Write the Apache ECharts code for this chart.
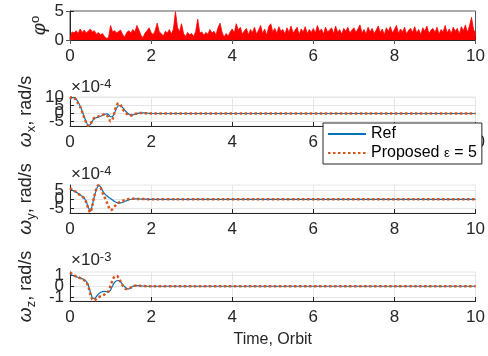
<!DOCTYPE html>
<html>
<head>
<meta charset="utf-8">
<script src="https://cdn.jsdelivr.net/npm/echarts@6/dist/echarts.min.js"></script>
<style>
html, body { margin: 0; padding: 0; background: #fff; }
#chart { width: 488px; height: 356px; }
</style>
</head>
<body>
<div id="chart"></div>
<script>
// Time axis (orbits)
const timeTicks = [0, 2, 4, 6, 8, 10];

// Pointing error phi (deg), sampled every 0.05 orbit from 0 to 10
const phiStep = 0.05;
const phiDeg = [
  0.3, 1.4, 1.2, 1.6, 1.1, 1.9, 1.3, 1.7, 1.2, 1.5, 1.9, 1.4, 1.6, 1.0, 1.3, 0.9, 1.1, 0.6, 0.3, 0.4,
  2.5, 1.4, 1.6, 1.2, 1.5, 1.7, 0.9, 0.5, 1.3, 1.6, 1.2, 1.8, 1.4, 2.5, 1.7, 0.8, 0.4, 1.2, 1.6, 2.1,
  1.3, 0.9, 1.6, 2.9, 1.4, 1.1, 0.7, 1.5, 1.2, 1.8, 1.0, 1.9, 4.9, 2.2, 1.4, 2.8, 1.1, 0.6, 1.3, 0.9,
  1.1, 0.6, 1.5, 3.6, 1.2, 1.4, 0.8, 1.3, 1.0, 1.8, 1.2, 1.5, 0.9, 2.1, 2.9, 1.3, 0.5, 1.1, 0.7, 1.4,
  1.9, 1.2, 2.8, 1.7, 2.2, 1.0, 1.6, 2.0, 0.9, 1.8, 1.3, 2.2, 1.0, 1.7, 2.5, 1.1, 1.9, 0.8, 2.3, 2.8,
  1.4, 2.0, 1.1, 2.3, 1.5, 1.8, 1.0, 2.1, 1.3, 2.4, 1.2, 1.7, 2.2, 0.9, 1.9, 1.4, 2.3, 1.1, 1.8, 1.3,
  2.0, 1.2, 2.5, 1.5, 1.9, 1.0, 2.2, 1.4, 1.7, 2.1, 1.1, 2.4, 1.3, 1.8, 1.0, 2.0, 1.5, 2.2, 1.2, 1.7,
  2.1, 1.3, 1.9, 2.6, 1.2, 1.8, 1.0, 2.2, 1.4, 2.0, 1.1, 1.7, 2.4, 1.3, 1.9, 0.9, 2.1, 1.5, 2.3, 1.2,
  1.8, 2.5, 1.1, 1.9, 1.4, 2.2, 1.0, 1.7, 2.0, 1.3, 2.3, 1.2, 1.8, 0.9, 2.1, 1.5, 2.4, 1.1, 1.7, 2.0,
  1.3, 2.2, 1.0, 1.8, 1.4, 2.5, 1.2, 1.9, 1.1, 2.2, 1.5, 2.0, 1.0, 2.3, 1.6, 2.6, 1.3, 2.4, 3.9, 1.8,
  1.2
];

// Sample times for the angular-rate responses (orbits)
const rateTime = [
  0, 0.05, 0.1, 0.15, 0.2, 0.25, 0.3, 0.35, 0.4, 0.45, 0.5, 0.55, 0.6, 0.65, 0.7, 0.75, 0.8, 0.85, 0.9, 0.95,
  1.0, 1.05, 1.1, 1.15, 1.2, 1.25, 1.3, 1.35, 1.4, 1.45, 1.5, 1.55, 1.6, 1.65, 1.7, 1.75, 1.8, 1.85, 1.9, 1.95,
  2.0, 10
];

// omega_x (x 1e-4 rad/s)
const wxRef = [
  8.5, 9.6, 9.8, 8.8, 6.8, 4.5, 1.5, -2.0, -5.0, -7.2, -6.8, -4.6, -3.0, -2.5, -2.2, -1.7, -1.2, -0.6, -0.2, -0.6,
  -2.0, -1.8, 0.5, 3.2, 4.7, 4.6, 3.5, 2.0, 0.6, -0.4, -1.0, -0.9, -0.5, -0.1, 0.2, 0.4, 0.4, 0.3, 0.2, 0.1,
  0.0, 0.0
];
const wxProp = [
  9.0, 10.0, 9.6, 8.2, 6.2, 4.0, 1.0, -2.6, -5.6, -7.5, -6.6, -4.2, -2.8, -2.2, -1.8, -1.3, -0.8, -0.5, -0.8, -2.5,
  -4.8, -3.5, 1.0, 5.0, 6.2, 5.0, 2.8, 1.0, -0.2, -1.1, -1.2, -0.8, -0.3, 0.0, 0.2, 0.3, 0.3, 0.2, 0.1, 0.1,
  0.0, 0.0
];

// omega_y (x 1e-4 rad/s)
const wyRef = [
  5.4, 4.9, 4.4, 3.8, 3.2, 2.4, 1.6, 0.6, -1.2, -4.2, -6.4, -3.0, 1.5, 5.0, 7.3, 6.8, 4.6, 3.0, 2.0, 1.1,
  0.4, -0.4, -1.2, -1.7, -2.0, -1.9, -1.6, -1.2, -0.7, -0.3, 0.0, 0.1, 0.2, 0.2, 0.2, 0.1, 0.1, 0.1, 0.0, 0.0,
  0.0, 0.0
];
const wyProp = [
  6.0, 5.2, 4.6, 3.9, 3.0, 2.2, 1.5, 0.4, -1.6, -4.8, -7.0, -3.4, 1.8, 5.6, 7.5, 6.5, 3.6, 1.2, -1.2, -3.8,
  -5.8, -5.2, -3.8, -2.8, -1.8, -1.2, -0.8, -0.5, -0.1, 0.2, 0.3, 0.3, 0.3, 0.2, 0.2, 0.1, 0.1, 0.1, 0.0, 0.0,
  0.0, 0.0
];

// omega_z (x 1e-3 rad/s)
const wzRef = [
  1.10, 1.02, 0.95, 0.88, 0.80, 0.74, 0.68, 0.60, 0.45, 0.12, -0.50, -1.05, -1.12, -0.95, -0.72, -0.58, -0.50, -0.47, -0.50, -0.55,
  -0.35, 0.05, 0.35, 0.50, 0.52, 0.38, 0.15, -0.05, -0.20, -0.25, -0.15, 0.00, 0.06, 0.06, 0.04, 0.02, 0.02, 0.01, 0.00, 0.00,
  0.00, 0.00
];
const wzProp = [
  1.25, 1.12, 1.00, 0.90, 0.82, 0.74, 0.65, 0.55, 0.38, 0.00, -0.70, -1.20, -1.30, -1.15, -1.00, -0.92, -0.85, -0.75, -0.60, -0.45,
  0.05, 0.55, 0.90, 0.95, 0.75, 0.40, 0.05, -0.20, -0.25, -0.20, -0.12, 0.00, 0.05, 0.05, 0.04, 0.03, 0.02, 0.01, 0.00, 0.00,
  0.00, 0.00
];

// Y tick values per panel
const phiTicks = [0, 5];
const wxTicks = [-5, 0, 5, 10];
const wyTicks = [-5, 0, 5];
const wzTicks = [-1, 0, 1];

const seriesNames = ['Ref', 'Proposed \u03b5 = 5'];

const FONT = 'Liberation Sans, Arial, Helvetica, sans-serif';
const AX = '#262626';
const GRIDC = '#e6e6e6';
const BLUE = '#0072BD';
const ORANGE = '#D95319';

const zip = (t, v) => v.map((y, i) => [t[i], y]);
const phiData = phiDeg.map((v, i) => [+(i * phiStep).toFixed(2), v]);

const grids = [
  { left: 70, right: 10, top: 11, height: 29, show: true, borderColor: '#555', borderWidth: 1, backgroundColor: 'transparent' },
  { left: 70, right: 10, top: 97, height: 29, show: true, borderColor: GRIDC, borderWidth: 1, backgroundColor: 'transparent' },
  { left: 70, right: 10, top: 185, height: 28, show: true, borderColor: GRIDC, borderWidth: 1, backgroundColor: 'transparent' },
  { left: 70, right: 10, top: 272, height: 29, show: true, borderColor: GRIDC, borderWidth: 1, backgroundColor: 'transparent' }
];

const tickLabelStyle = { show: true, fontSize: 17, color: AX, fontFamily: FONT, hideOverlap: false };

function xAxisFor(i) {
  return {
    type: 'value', gridIndex: i, min: 0, max: 10, interval: 2,
    axisLine: { show: true, onZero: false, lineStyle: { color: AX, width: 1 } },
    axisTick: { show: true, inside: true, length: 4, lineStyle: { color: AX } },
    axisLabel: Object.assign({ margin: 8, showMinLabel: true, showMaxLabel: true }, tickLabelStyle),
    splitLine: { show: i > 0, lineStyle: { color: GRIDC, width: 1 } },
    name: i === 3 ? 'Time, Orbit' : '',
    nameLocation: 'middle', nameGap: 31,
    nameTextStyle: { fontSize: 16, color: AX, fontFamily: FONT }
  };
}

// main y axis of a panel: line, ticks, grid lines and title
function yAxisFor(i, min, max, ticks, name, gap, rich) {
  return {
    type: 'value', gridIndex: i, min: min, max: max, position: 'left',
    axisLine: { show: true, onZero: false, lineStyle: { color: AX, width: 1 } },
    axisTick: { show: true, inside: true, length: 4, lineStyle: { color: AX }, customValues: ticks },
    axisLabel: { show: false, customValues: ticks },
    splitLine: { show: i > 0, lineStyle: { color: GRIDC, width: 1 } },
    name: name, nameLocation: 'middle', nameRotate: 90, nameGap: gap,
    nameTextStyle: { fontSize: 18, color: AX, fontFamily: FONT, rich: rich }
  };
}

// one tick label per overlaid axis, so close labels are all drawn
function yLabelAxis(i, min, max, v) {
  return {
    type: 'value', gridIndex: i, min: min, max: max, position: 'left',
    axisLine: { show: false }, axisTick: { show: false }, splitLine: { show: false },
    axisLabel: Object.assign({ margin: 6, customValues: [v], showMinLabel: true, showMaxLabel: true }, tickLabelStyle)
  };
}

const rateRich = {
  w: { fontSize: 19, color: AX, fontFamily: FONT, fontStyle: 'italic', lineHeight: 24 },
  s: { fontSize: 13, color: AX, fontFamily: FONT, verticalAlign: 'bottom', lineHeight: 24 },
  t: { fontSize: 18, color: AX, fontFamily: FONT, lineHeight: 24 }
};
const phiRich = {
  p: { fontSize: 19, color: AX, fontFamily: FONT, fontStyle: 'italic', lineHeight: 22 },
  o: { fontSize: 13, color: AX, fontFamily: FONT, verticalAlign: 'top', lineHeight: 22 }
};

const xAxes = [0, 1, 2, 3].map(xAxisFor);
// box ticks along the top edge of the phi panel
xAxes.push({
  type: 'value', gridIndex: 0, position: 'top', min: 0, max: 10, interval: 2,
  axisLine: { show: false }, axisLabel: { show: false }, splitLine: { show: false },
  axisTick: { show: true, inside: true, length: 4, lineStyle: { color: '#555' } }
});

const panels = [
  { min: 0, max: 5, ticks: phiTicks, name: '{p|\u03c6}{o|o}', gap: 19, rich: phiRich },
  { min: -7.6, max: 10, ticks: wxTicks, name: '{w|\u03c9}{s|x}{t|, rad/s}', gap: 32, rich: rateRich },
  { min: -7.3, max: 7.6, ticks: wyTicks, name: '{w|\u03c9}{s|y}{t|, rad/s}', gap: 32, rich: rateRich },
  { min: -1.35, max: 1.3, ticks: wzTicks, name: '{w|\u03c9}{s|z}{t|, rad/s}', gap: 32, rich: rateRich }
];

const yAxes = panels.map((p, i) => yAxisFor(i, p.min, p.max, p.ticks, p.name, p.gap, p.rich));
yAxes.push({
  type: 'value', gridIndex: 0, position: 'right', min: 0, max: 5,
  axisLine: { show: false }, axisLabel: { show: false }, splitLine: { show: false },
  axisTick: { show: true, inside: true, length: 4, lineStyle: { color: '#555' }, customValues: phiTicks }
});
panels.forEach((p, i) => {
  p.ticks.forEach(v => yAxes.push(yLabelAxis(i, p.min, p.max, v)));
});

const series = [{
  type: 'line', name: 'phi', xAxisIndex: 0, yAxisIndex: 0, data: phiData,
  symbol: 'none', lineStyle: { color: '#ff0000', width: 0.8 },
  areaStyle: { color: '#ff0000', opacity: 1 }, silent: true
}];

const rates = [[wxRef, wxProp], [wyRef, wyProp], [wzRef, wzProp]];
rates.forEach((pair, k) => {
  const gi = k + 1;
  series.push({
    type: 'line', name: seriesNames[0], xAxisIndex: gi, yAxisIndex: gi,
    data: zip(rateTime, pair[0]), symbol: 'none', smooth: 0.3,
    lineStyle: { color: BLUE, width: 1.2 }, itemStyle: { color: BLUE }, z: 3
  });
  series.push({
    type: 'line', name: seriesNames[1], xAxisIndex: gi, yAxisIndex: gi,
    data: zip(rateTime, pair[1]), symbol: 'none', smooth: 0.3,
    lineStyle: { color: ORANGE, width: 2.5, type: [2.5, 2.5] }, itemStyle: { color: ORANGE }, z: 4
  });
});

// power-of-ten multipliers above each rate panel
function expLabel(top, exp) {
  return {
    type: 'text', left: 71, top: top, z: 10,
    style: {
      text: '{a|\u00d710}{b|' + exp + '}',
      rich: {
        a: { fontSize: 17, fill: AX, fontFamily: FONT, lineHeight: 18, verticalAlign: 'bottom' },
        b: { fontSize: 13, fill: AX, fontFamily: FONT, lineHeight: 18, verticalAlign: 'top' }
      }
    }
  };
}

const option = {
  animation: false,
  backgroundColor: '#fff',
  grid: grids,
  xAxis: xAxes,
  yAxis: yAxes,
  series: series,
  legend: {
    data: seriesNames,
    orient: 'vertical', left: 323, top: 123,
    padding: [3, 5, 3, 4], itemGap: 3,
    itemWidth: 38, itemHeight: 14,
    itemStyle: { color: 'transparent', borderWidth: 0, opacity: 0 },
    backgroundColor: '#fff', borderColor: AX, borderWidth: 1, borderRadius: 0,
    selectedMode: false, z: 20,
    textStyle: { fontSize: 16, color: '#000', fontFamily: FONT,
      rich: { e: { fontSize: 13, color: '#000', fontFamily: FONT } } },
    formatter: function (n) {
      return n === seriesNames[1] ? 'Proposed {e|\u03b5} = 5' : n;
    }
  },
  graphic: [expLabel(78, '-4'), expLabel(165, '-4'), expLabel(251, '-3')]
};

const chart = echarts.init(document.getElementById('chart'), null, { renderer: 'canvas' });
chart.setOption(option);
</script>
</body>
</html>
